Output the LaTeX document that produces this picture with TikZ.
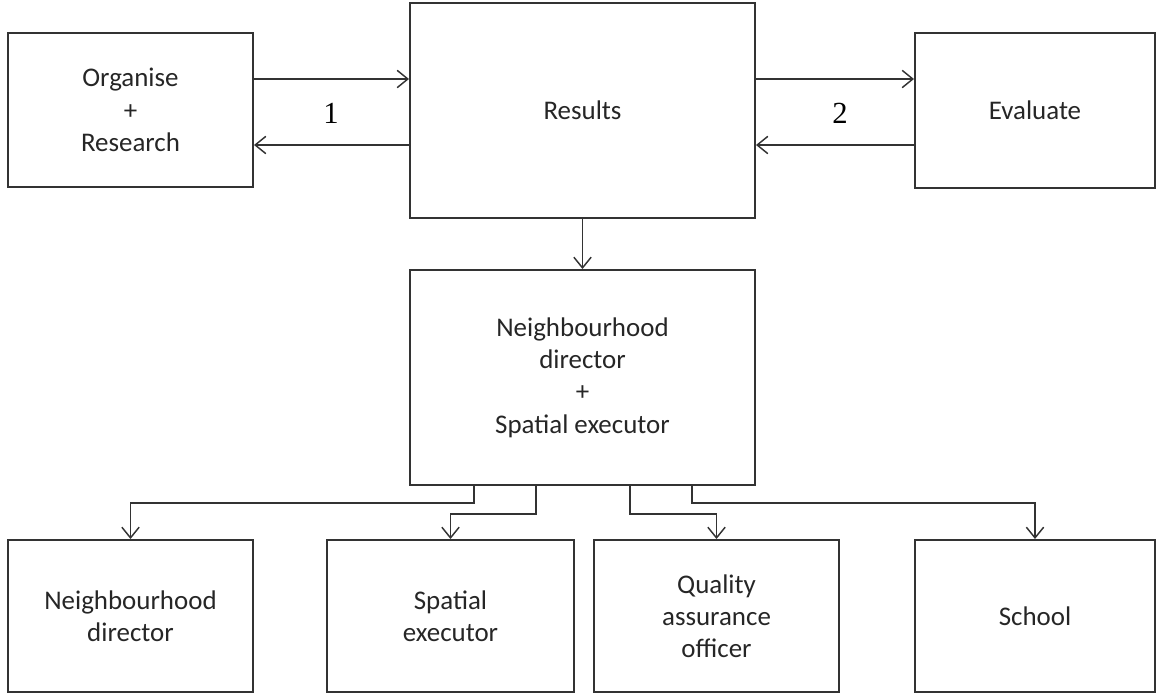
\documentclass[tikz,border=0pt]{standalone}
\usepackage{fontspec}
\setmainfont{Carlito}
\newfontfamily\numfont{Liberation Serif}
\usetikzlibrary{arrows.meta}
\begin{document}
\begin{tikzpicture}[x=0.75pt,y=-0.75pt,
  box/.style={draw=black!80,line width=1.5pt,inner sep=0pt,align=center,
    text=black!85,font=\fontsize{20.2}{24.2}\selectfont},
  arr/.style={draw=black!80,line width=1.1pt,-{Straight Barb[length=8pt,width=13pt,line width=1.1pt]}},
  numlab/.style={font=\numfont\fontsize{23}{27}\selectfont,text=black}]
\useasboundingbox (0,0) rectangle (1161,694);
% top row
\node[box,minimum width=245*0.75pt,minimum height=154*0.75pt] (org) at (130.5,110) {Organise\\+\\Research};
\node[box,minimum width=345*0.75pt,minimum height=215*0.75pt] (res) at (582.5,110.5) {Results};
\node[box,minimum width=240*0.75pt,minimum height=155*0.75pt] (eva) at (1035,110.5) {Evaluate};
% middle
\node[box,minimum width=345*0.75pt,minimum height=215*0.75pt] (mid) at (582.5,377.5) {Neighbourhood\\director\\+\\Spatial executor};
% bottom row
\node[box,minimum width=245*0.75pt,minimum height=152*0.75pt] (nd) at (130.5,616) {Neighbourhood\\director};
\node[box,minimum width=247*0.75pt,minimum height=152*0.75pt] (se) at (450.5,616) {Spatial\\executor};
\node[box,minimum width=245*0.75pt,minimum height=152*0.75pt] (qa) at (716.5,616) {Quality\\assurance\\officer};
\node[box,minimum width=240*0.75pt,minimum height=152*0.75pt] (sch) at (1035,616) {School};
% helper coordinates
\coordinate (ya) at (0,79);
\coordinate (yb) at (0,145);
\coordinate (s1) at (474,0);
\coordinate (s2) at (536,0);
\coordinate (s3) at (630,0);
\coordinate (s4) at (692,0);
% top arrows
\draw[arr] (org.east |- ya) -- (res.west |- ya);
\draw[arr] (res.west |- yb) -- (org.east |- yb);
\draw[arr] (res.east |- ya) -- (eva.west |- ya);
\draw[arr] (eva.west |- yb) -- (res.east |- yb);
\node[numlab] (n1) at (331,113) {1};
\node[numlab] (n2) at (840,113) {2};
% down arrow
\draw[arr] (res.south) -- (mid.north);
% bottom connectors
\draw[arr] (mid.south -| s1) -- ++(0,17) -| (nd.north);
\draw[arr] (mid.south -| s2) -- ++(0,28) -| (se.north);
\draw[arr] (mid.south -| s3) -- ++(0,28) -| (qa.north);
\draw[arr] (mid.south -| s4) -- ++(0,17) -| (sch.north);
\end{tikzpicture}
\end{document}
